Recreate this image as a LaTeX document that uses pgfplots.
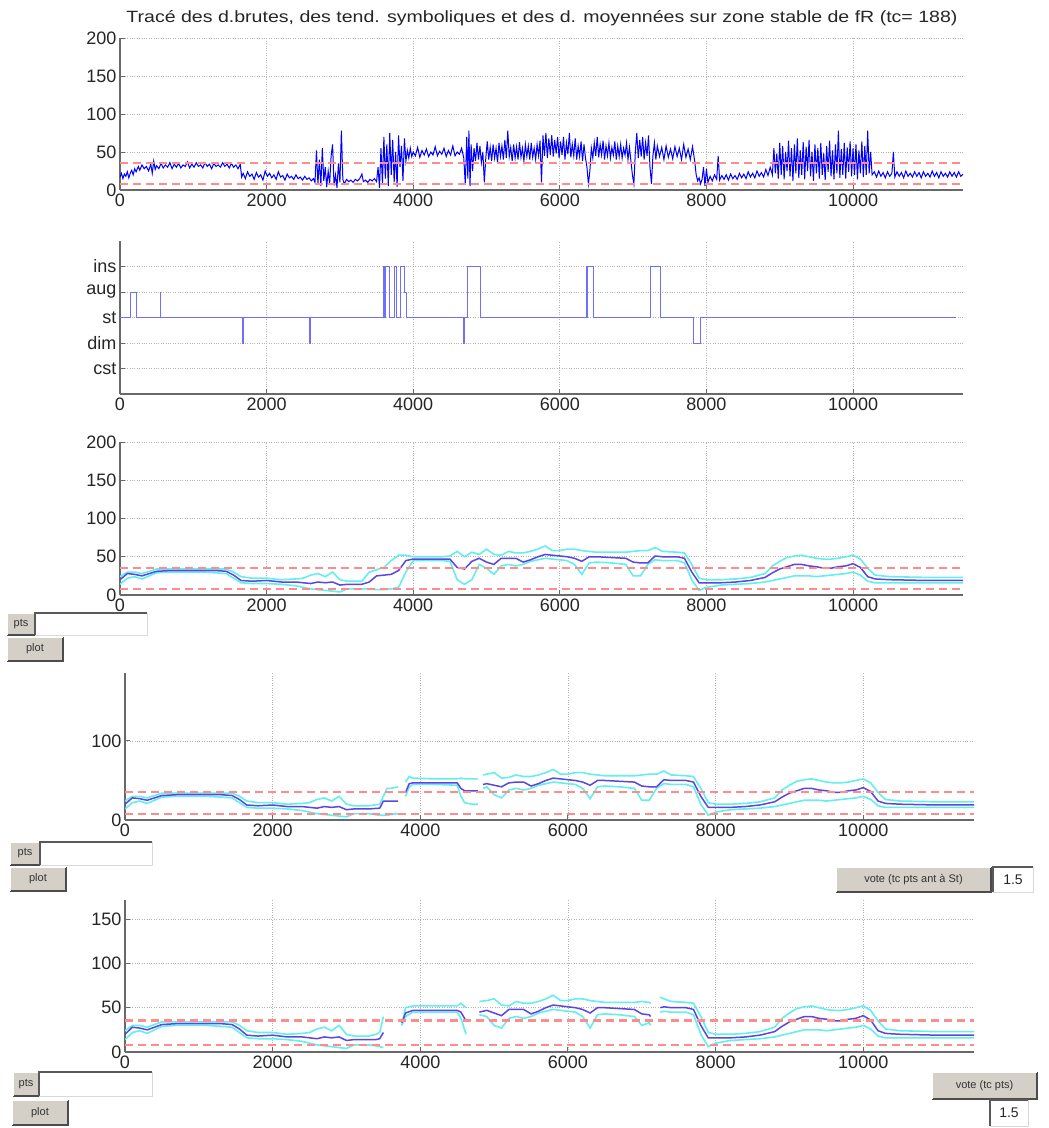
\documentclass[border=0pt]{standalone}
\usepackage{pgfplots}
\pgfplotsset{compat=1.18}
\usepackage{pgfplotstable}
\usepackage{fontspec}
\setmainfont{Liberation Sans}
\definecolor{rawblue}{RGB}{0,0,255}
\definecolor{stepblue}{RGB}{110,110,255}
\definecolor{meanblue}{RGB}{90,70,225}
\definecolor{cyanl}{RGB}{100,238,238}
\definecolor{redd}{RGB}{255,140,140}
\definecolor{btn}{RGB}{212,208,200}
\definecolor{axc}{RGB}{105,105,105}

\pgfplotstableread[row sep=\\]{x y\\
0 17\\ 20 22\\ 40 15\\ 60 21\\ 80 18\\ 100 24\\ 120 16\\ 140 22\\ 160 26\\ 180 20\\ 200 28\\ 220 24\\ 250 31\\ 270 26\\ 300 33\\ 330 28\\ 360 31\\ 390 25\\ 420 34\\ 440 22\\ 460 38\\ 480 27\\ 500 32\\ 530 28\\ 560 35\\ 590 29\\ 620 33\\ 650 30\\ 680 36\\ 710 28\\ 740 34\\ 770 30\\ 800 35\\ 830 29\\ 860 33\\ 890 31\\ 920 37\\ 950 29\\ 980 34\\ 1010 30\\ 1040 36\\ 1070 31\\ 1100 33\\ 1130 29\\ 1160 36\\ 1190 31\\ 1220 34\\ 1250 28\\ 1280 35\\ 1310 31\\ 1340 33\\ 1370 30\\ 1400 36\\ 1430 31\\ 1460 34\\ 1490 29\\ 1520 35\\ 1550 30\\ 1580 33\\ 1610 28\\ 1640 34\\ 1660 17\\
1680 22\\ 1710 15\\ 1740 24\\ 1770 18\\ 1800 21\\ 1830 14\\ 1860 23\\ 1890 17\\ 1920 20\\ 1950 13\\ 1980 25\\ 2010 18\\ 2040 22\\ 2070 16\\ 2100 20\\ 2130 14\\ 2160 24\\ 2190 17\\ 2220 19\\ 2250 13\\ 2280 21\\ 2310 16\\ 2340 18\\ 2370 14\\ 2400 20\\ 2430 15\\ 2460 17\\ 2490 13\\ 2520 18\\ 2550 14\\ 2580 16\\ 2610 12\\ 2640 15\\
2660 10\\ 2680 52\\ 2700 8\\ 2720 40\\ 2740 5\\ 2760 55\\ 2780 12\\ 2800 30\\ 2820 4\\ 2840 25\\ 2860 8\\ 2880 45\\ 2900 60\\ 2920 6\\ 2940 20\\ 2960 3\\ 2980 35\\ 3000 10\\ 3020 78\\ 3040 14\\ 3060 8\\
3090 14\\ 3120 11\\ 3150 13\\ 3180 10\\ 3210 14\\ 3240 12\\ 3270 15\\ 3300 21\\ 3320 11\\ 3350 13\\ 3380 10\\ 3410 14\\ 3440 12\\ 3470 15\\ 3500 11\\
3520 30\\ 3540 3\\ 3560 55\\ 3580 8\\ 3600 70\\ 3620 15\\ 3640 60\\ 3660 5\\ 3680 75\\ 3700 20\\ 3720 66\\ 3740 10\\ 3760 50\\ 3780 4\\ 3800 72\\ 3820 30\\ 3840 58\\ 3860 12\\ 3880 68\\ 3900 38\\
3920 52\\ 3940 42\\ 3960 55\\ 3980 44\\ 4000 50\\ 4030 45\\ 4060 56\\ 4090 43\\ 4120 52\\ 4150 46\\ 4180 54\\ 4210 44\\ 4240 50\\ 4270 46\\ 4300 57\\ 4330 45\\ 4360 51\\ 4390 47\\ 4420 55\\ 4450 44\\ 4480 52\\ 4510 46\\ 4540 58\\ 4570 45\\ 4600 50\\ 4630 47\\ 4660 55\\ 4690 42\\
4710 8\\ 4730 70\\ 4745 15\\ 4760 78\\ 4775 5\\ 4790 60\\ 4810 25\\
4830 55\\ 4850 38\\ 4870 62\\ 4890 40\\ 4910 58\\ 4930 36\\ 4950 50\\ 4970 10\\ 4990 42\\ 5010 64\\ 5030 40\\ 5050 56\\ 5070 38\\ 5090 60\\ 5110 42\\ 5130 55\\ 5150 36\\ 5170 62\\ 5190 44\\ 5210 58\\ 5230 40\\ 5250 66\\ 5270 42\\ 5290 78\\ 5310 44\\ 5330 56\\ 5350 38\\ 5370 60\\ 5390 42\\ 5410 57\\ 5430 40\\ 5450 63\\ 5470 43\\ 5490 55\\ 5510 38\\ 5530 60\\ 5550 44\\ 5570 58\\ 5590 40\\ 5610 62\\ 5630 43\\ 5650 55\\ 5670 40\\ 5690 60\\ 5710 45\\
5730 65\\ 5750 10\\ 5770 72\\ 5790 45\\ 5810 75\\ 5830 42\\ 5850 68\\ 5870 46\\ 5890 72\\ 5910 44\\ 5930 66\\ 5950 48\\ 5970 70\\ 5990 42\\ 6010 64\\ 6030 46\\ 6050 70\\ 6070 40\\ 6090 62\\ 6110 47\\ 6130 75\\ 6150 43\\ 6170 60\\ 6190 45\\ 6210 68\\ 6230 40\\ 6250 58\\ 6270 44\\ 6290 64\\ 6310 38\\ 6330 60\\ 6350 42\\ 6370 30\\ 6390 8\\ 6410 25\\ 6430 55\\
6450 42\\ 6470 62\\ 6490 45\\ 6510 70\\ 6530 43\\ 6550 60\\ 6570 46\\ 6590 65\\ 6610 40\\ 6630 58\\ 6650 45\\ 6670 62\\ 6690 42\\ 6710 56\\ 6730 46\\ 6750 64\\ 6770 40\\ 6790 58\\ 6810 44\\ 6830 60\\ 6850 42\\ 6870 55\\ 6890 46\\ 6910 62\\ 6930 40\\ 6950 56\\ 6970 38\\ 6990 20\\ 7010 8\\ 7030 50\\ 7050 75\\ 7070 42\\ 7090 66\\ 7110 44\\ 7130 70\\ 7150 40\\ 7170 62\\ 7190 45\\ 7210 72\\ 7230 30\\ 7250 8\\ 7270 45\\ 7290 62\\ 7310 40\\ 7330 58\\
7360 44\\ 7390 56\\ 7420 40\\ 7450 58\\ 7480 43\\ 7510 54\\ 7540 41\\ 7570 57\\ 7600 44\\ 7630 55\\ 7660 40\\ 7690 60\\ 7720 43\\ 7750 54\\ 7780 40\\ 7810 57\\ 7840 38\\ 7860 20\\ 7880 12\\ 7900 16\\ 7920 8\\ 7940 14\\ 7960 30\\ 7980 5\\ 8000 28\\
8020 10\\ 8050 18\\ 8080 12\\ 8110 20\\ 8140 14\\ 8160 45\\ 8180 13\\ 8210 19\\ 8240 14\\ 8270 20\\ 8300 13\\ 8330 21\\ 8360 15\\ 8390 19\\ 8420 14\\ 8450 22\\ 8480 16\\ 8510 21\\ 8540 15\\ 8570 24\\ 8600 17\\ 8630 22\\ 8660 16\\ 8690 25\\ 8720 18\\ 8750 23\\ 8780 17\\ 8810 27\\ 8840 19\\ 8870 30\\ 8900 20\\
8920 55\\ 8940 22\\ 8960 48\\ 8980 15\\ 9000 62\\ 9020 20\\ 9040 58\\ 9060 14\\ 9080 50\\ 9100 25\\ 9120 65\\ 9140 18\\ 9160 55\\ 9180 12\\ 9200 60\\ 9220 22\\ 9240 68\\ 9260 16\\ 9280 52\\ 9300 20\\ 9320 63\\ 9340 14\\ 9360 57\\ 9380 25\\ 9400 66\\ 9420 18\\ 9440 50\\ 9460 12\\ 9480 60\\ 9500 22\\ 9520 55\\ 9540 15\\ 9560 62\\ 9580 20\\ 9600 48\\ 9620 13\\ 9640 58\\ 9660 24\\ 9680 65\\ 9700 18\\ 9720 52\\ 9740 14\\ 9760 60\\ 9780 22\\ 9800 78\\ 9820 16\\ 9840 54\\ 9860 20\\ 9880 62\\ 9900 15\\ 9920 56\\ 9940 24\\ 9960 64\\ 9980 18\\ 10000 55\\ 10020 20\\ 10040 60\\ 10060 14\\ 10080 52\\ 10100 22\\ 10120 64\\ 10140 17\\ 10160 58\\ 10180 20\\ 10200 78\\ 10220 22\\ 10240 50\\ 10260 20\\
10290 24\\ 10320 17\\ 10350 25\\ 10380 18\\ 10410 23\\ 10440 16\\ 10470 24\\ 10500 18\\ 10530 22\\ 10550 50\\ 10570 17\\ 10600 24\\ 10630 18\\ 10660 23\\ 10690 16\\ 10720 25\\ 10750 18\\ 10780 22\\ 10810 17\\ 10840 24\\ 10870 18\\ 10900 23\\ 10930 16\\ 10960 24\\ 10990 18\\ 11020 22\\ 11050 17\\ 11080 25\\ 11110 18\\ 11140 23\\ 11170 16\\ 11200 24\\ 11230 18\\ 11260 22\\ 11290 17\\ 11320 24\\ 11350 18\\ 11380 23\\ 11410 17\\ 11440 24\\ 11470 18\\ 11500 21\\
}\rawdata

\pgfplotstableread[row sep=\\]{x m u l\\
0 20 24 14\\ 100 28 30 22\\ 200 27 30 24\\ 300 25 28 21\\ 400 28 31 25\\ 500 31 34 29\\ 700 32 34 30\\ 900 32 34 30\\ 1100 32 34 30\\ 1300 32 34 29\\ 1450 31 34 28\\ 1550 26 30 22\\ 1650 19 24 16\\ 1800 18 22 15\\ 2000 19 22 15\\ 2200 17 20 14\\ 2400 17 21 12\\ 2500 16 22 10\\ 2600 15 26 8\\ 2700 17 28 7\\ 2800 16 24 6\\ 2900 17 30 5\\ 3000 13 20 4\\ 3100 14 18 8\\ 3300 14 18 8\\ 3400 17 30 8\\ 3500 25 33 7\\ 3600 26 36 7\\ 3700 27 45 8\\ 3800 32 52 10\\ 3900 45 52 30\\ 4000 47 50 45\\ 4200 47 50 45\\ 4400 47 50 45\\ 4500 47 51 44\\ 4600 36 57 20\\ 4700 34 50 14\\ 4800 44 56 20\\ 4900 48 53 40\\ 5000 43 60 35\\ 5100 40 53 27\\ 5200 48 52 38\\ 5300 48 57 40\\ 5400 48 55 38\\ 5500 43 55 40\\ 5600 46 57 44\\ 5700 50 60 46\\ 5800 53 64 48\\ 5900 52 58 47\\ 6000 51 58 46\\ 6100 50 60 45\\ 6200 48 60 40\\ 6300 44 58 27\\ 6400 50 57 42\\ 6500 50 56 43\\ 6700 49 56 42\\ 6900 48 56 40\\ 7000 43 57 25\\ 7100 42 58 25\\ 7200 42 58 40\\ 7300 51 62 46\\ 7400 50 57 45\\ 7600 50 56 45\\ 7700 48 55 42\\ 7800 30 40 20\\ 7900 16 22 6\\ 8000 16 20 10\\ 8200 16 20 13\\ 8400 17 21 14\\ 8600 19 23 15\\ 8800 23 28 17\\ 8900 29 38 19\\ 9000 34 44 21\\ 9100 37 49 23\\ 9200 40 51 25\\ 9300 40 52 25\\ 9400 38 50 25\\ 9500 37 48 24\\ 9600 35 47 25\\ 9700 35 47 26\\ 9800 37 48 27\\ 9900 38 50 28\\ 10000 41 52 30\\ 10100 36 47 26\\ 10200 24 35 18\\ 10300 21 26 16\\ 10500 20 24 16\\ 11000 19 23 16\\ 11500 19 23 16\\
}\pthree

\pgfplotstableread[row sep=\\]{x m u l\\
0 20 24 14\\ 100 28 30 22\\ 200 27 30 24\\ 300 25 28 21\\ 400 28 31 25\\ 500 31 34 29\\ 700 32 34 30\\ 900 32 34 30\\ 1100 32 34 30\\ 1300 32 34 29\\ 1450 31 34 28\\ 1550 26 30 22\\ 1650 19 24 16\\ 1800 18 22 15\\ 2000 19 22 15\\ 2200 17 20 14\\ 2400 17 21 12\\ 2500 16 22 10\\ 2600 15 26 8\\ 2700 17 28 7\\ 2800 16 24 6\\ 2900 17 30 5\\ 3000 13 20 4\\ 3100 14 18 8\\ 3300 14 18 8\\ 3450 15 20 6\\ 3500 24 30 6\\ 3550 24 40 6\\ 3600 24 40 7\\ 3700 24 42 8\\
nan nan nan nan\\
3800 35 48 30\\ 3850 46 55 42\\ 3900 47 53 45\\ 4200 47 52 45\\ 4500 47 52 44\\ 4550 40 53 30\\ 4600 37 52 22\\ 4700 37 52 20\\ 4780 37 52 20\\
nan nan nan nan\\
4850 45 57 40\\ 4900 46 58 42\\ 5000 44 60 32\\ 5100 42 53 28\\ 5200 47 54 38\\ 5300 48 57 40\\ 5400 48 55 38\\ 5500 43 55 40\\ 5600 46 57 44\\ 5700 50 60 46\\ 5800 53 64 48\\ 5900 52 58 47\\ 6000 51 58 46\\ 6100 50 60 45\\ 6200 48 60 40\\ 6300 44 58 27\\ 6400 50 57 42\\ 6500 50 56 43\\ 6700 49 56 42\\ 6900 48 56 40\\ 7000 43 57 25\\ 7100 42 58 25\\ 7200 42 58 40\\ 7300 51 62 46\\ 7400 50 57 45\\ 7600 50 56 45\\ 7700 48 55 42\\ 7800 30 40 20\\ 7900 16 22 6\\ 8000 16 20 10\\ 8200 16 20 13\\ 8400 17 21 14\\ 8600 19 23 15\\ 8800 23 28 17\\ 8900 29 38 19\\ 9000 34 44 21\\ 9100 37 49 23\\ 9200 40 51 25\\ 9300 40 52 25\\ 9400 38 50 25\\ 9500 37 48 24\\ 9600 35 47 25\\ 9700 35 47 26\\ 9800 37 48 27\\ 9900 38 50 28\\ 10000 41 52 30\\ 10100 36 47 26\\ 10200 24 35 18\\ 10300 21 26 16\\ 10500 20 24 16\\ 11000 19 23 16\\ 11500 19 23 16\\
}\pfour

\pgfplotstableread[row sep=\\]{x m u l\\
0 20 24 14\\ 100 28 30 22\\ 200 27 30 24\\ 300 25 28 21\\ 400 28 31 25\\ 500 31 34 29\\ 700 32 34 30\\ 900 32 34 30\\ 1100 32 34 30\\ 1300 32 34 29\\ 1450 31 34 28\\ 1550 26 30 22\\ 1650 19 24 16\\ 1800 18 22 15\\ 2000 19 22 15\\ 2200 17 20 14\\ 2400 17 21 12\\ 2500 16 22 10\\ 2600 15 26 8\\ 2700 17 28 7\\ 2800 16 24 6\\ 2900 17 30 5\\ 3000 13 20 4\\ 3100 14 18 8\\ 3300 14 18 8\\ 3400 14 20 7\\ 3450 15 22 6\\ 3500 22 40 5\\
nan nan nan nan\\
3750 33 30 30\\ 3800 44 50 40\\ 3900 47 52 45\\ 4200 47 52 45\\ 4500 47 52 45\\ 4550 45 55 38\\ 4620 35 50 20\\
nan nan nan nan\\
4800 45 57 42\\ 4900 47 58 40\\ 5000 44 60 30\\ 5100 41 53 27\\ 5200 48 52 38\\ 5300 48 57 40\\ 5400 48 55 38\\ 5500 43 55 40\\ 5600 46 57 44\\ 5700 50 60 46\\ 5800 53 64 48\\ 5900 52 58 47\\ 6000 51 58 46\\ 6100 50 60 45\\ 6200 48 60 40\\ 6300 44 58 27\\ 6400 50 57 42\\ 6500 50 56 43\\ 6700 49 56 42\\ 6900 48 56 40\\ 7000 43 57 30\\ 7100 42 56 33\\ 7120 40 55 30\\
nan nan nan nan\\
7250 50 62 45\\ 7300 51 60 46\\ 7400 50 57 45\\ 7600 50 56 45\\ 7700 48 55 42\\ 7800 30 40 20\\ 7900 16 22 6\\ 8000 16 20 10\\ 8200 16 20 13\\ 8400 17 21 14\\ 8600 19 23 15\\ 8800 23 28 17\\ 8900 29 38 19\\ 9000 34 44 21\\ 9100 37 49 23\\ 9200 40 51 25\\ 9300 40 52 25\\ 9400 38 50 25\\ 9500 37 48 24\\ 9600 35 47 25\\ 9700 35 47 26\\ 9800 37 48 27\\ 9900 38 50 28\\ 10000 41 52 30\\ 10100 36 47 26\\ 10200 24 35 18\\ 10300 21 26 16\\ 10500 20 24 16\\ 11000 19 23 16\\ 11500 19 23 16\\
}\pfive

\pgfplotsset{
  ml/.style={
    scale only axis, anchor=south west,
    axis x line*=bottom, axis y line*=left,
    axis line style={axc, line width=1.6pt, -},
    xmin=0, xmax=11500, xtick={0,2000,4000,6000,8000,10000},
    grid=major, major grid style={axc!50, dotted, line width=0.9pt},
    tick style={axc, line width=1pt}, major tick length=5pt, tick align=inside,
    ticklabel style={font=\fontsize{18}{18}\selectfont, text=black!85},
    /pgf/number format/assume math mode=true,
    /pgf/number format/1000 sep={},
    scaled ticks=false,
    unbounded coords=jump,
  },
  redl/.style={redd, line width=2.2pt, dash pattern=on 8pt off 5pt, forget plot},
  meanl/.style={meanblue, line width=1.5pt},
  cyl/.style={cyanl, line width=1.6pt},
}

\newcommand\btn[5]{%
  \fill[btn] (#1pt,-#2pt) rectangle (#3pt,-#4pt);
  \draw[black!70, line width=1.6pt] (#1pt,-#4pt) -- (#3pt,-#4pt) -- (#3pt,-#2pt);
  \draw[white, line width=1pt] (#1pt,-#4pt) -- (#1pt,-#2pt) -- (#3pt,-#2pt);
  \node[font=\fontsize{11}{11}\selectfont, text=black!80, inner sep=0pt] at ({(#1+#3)/2*1pt},{-(#2+#4)/2*1pt}) {#5};
}
\newcommand\fld[5]{%
  \fill[white] (#1pt,-#2pt) rectangle (#3pt,-#4pt);
  \draw[black!65, line width=1.6pt] (#1pt,-#4pt) -- (#1pt,-#2pt) -- (#3pt,-#2pt);
  \draw[black!15, line width=1pt] (#1pt,-#4pt) -- (#3pt,-#4pt) -- (#3pt,-#2pt);
  \node[font=\fontsize{14}{14}\selectfont, text=black!85, inner sep=0pt] at ({(#1+#3)/2*1pt},{-(#2+#4)/2*1pt}) {#5};
}

\begin{document}
\begin{tikzpicture}
\path[use as bounding box, fill=white] (0pt,0pt) rectangle (1049pt,-1128pt);

\node[inner sep=0pt, text=black!85] at (542pt,-18pt) {\resizebox{831pt}{12pt}{Tracé des d.brutes, des tend. symboliques et des d. moyennées sur zone stable de fR (tc= 188)}};

% Panel 1
\begin{axis}[ml, at={(120pt,-190pt)}, width=843pt, height=152pt,
  ymin=0, ymax=200, ytick={0,50,100,150,200}]
\addplot[rawblue, line width=1pt] table[x=x,y=y] {\rawdata};
\addplot[redl] coordinates {(0,35.5) (11500,35.5)};
\addplot[redl] coordinates {(0,8) (11500,8)};
\end{axis}

% Panel 2
\begin{axis}[ml, at={(120pt,-394pt)}, width=843pt, height=153pt,
  ymin=0, ymax=6, ytick={1,2,3,4,5}, yticklabels={cst,dim,st,aug,ins}]
\addplot[stepblue, line width=1pt] coordinates {
(0,3)(137,3)(137,4)(228,4)(228,3)(546,3)(546,4)(550,4)(550,3)(1676,3)(1676,2)(1690,2)(1690,3)
(2585,3)(2585,2)(2595,2)(2595,3)(3598,3)(3598,5)(3610,5)(3610,3)(3620,3)(3620,5)(3680,5)(3680,3)
(3740,3)(3740,5)(3770,5)(3770,3)(3820,3)(3820,5)(3880,5)(3880,4)(3910,4)(3910,3)
(4690,3)(4690,2)(4700,2)(4700,3)(4737,3)(4737,5)(4911,5)(4911,3)
(6360,3)(6360,5)(6370,5)(6370,3)(6380,3)(6380,5)(6455,5)(6455,3)
(7240,3)(7240,5)(7370,5)(7370,3)(7820,3)(7820,2)(7920,2)(7920,3)(11400,3)};
\end{axis}

% Panel 3
\begin{axis}[ml, at={(120pt,-595pt)}, width=843pt, height=153pt,
  ymin=0, ymax=200, ytick={0,50,100,150,200}]
\addplot[cyl] table[x=x,y=u] {\pthree};
\addplot[cyl] table[x=x,y=l] {\pthree};
\addplot[meanl] table[x=x,y=m] {\pthree};
\addplot[redl] coordinates {(0,35.5) (11500,35.5)};
\addplot[redl] coordinates {(0,8) (11500,8)};
\end{axis}

% Panel 4
\begin{axis}[ml, at={(125pt,-820pt)}, width=849pt, height=147pt,
  ymin=0, ymax=186, ytick={0,100}]
\addplot[cyl] table[x=x,y=u] {\pfour};
\addplot[cyl] table[x=x,y=l] {\pfour};
\addplot[meanl] table[x=x,y=m] {\pfour};
\addplot[redl] coordinates {(0,35.5) (11500,35.5)};
\addplot[redl] coordinates {(0,8) (11500,8)};
\end{axis}

% Panel 5
\begin{axis}[ml, at={(125pt,-1052pt)}, width=849pt, height=152pt,
  ymin=0, ymax=171.5, ytick={0,50,100,150}]
\addplot[cyl] table[x=x,y=u] {\pfive};
\addplot[cyl] table[x=x,y=l] {\pfive};
\addplot[meanl] table[x=x,y=m] {\pfive};
\addplot[redl] coordinates {(0,35.5) (11500,35.5)};
\addplot[redl] coordinates {(0,8) (11500,8)};
\end{axis}

% GUI controls
\btn{7}{613}{35}{635}{pts}
\fld{35}{613}{147}{635}{}
\btn{7}{637}{63}{661}{plot}

\btn{10}{842}{40}{865}{pts}
\fld{40}{842}{152}{865}{}
\btn{10}{867}{66}{891}{plot}
\btn{836}{867}{991}{892}{vote (tc pts ant à St)}
\fld{993}{867}{1033}{892}{1.5}

\btn{13}{1072}{39}{1096}{pts}
\fld{39}{1072}{152}{1096}{}
\btn{12}{1100}{68}{1125}{plot}
\btn{932}{1072}{1037}{1099}{vote (tc pts)}
\fld{990}{1100}{1028}{1126}{1.5}
\end{tikzpicture}
\end{document}
